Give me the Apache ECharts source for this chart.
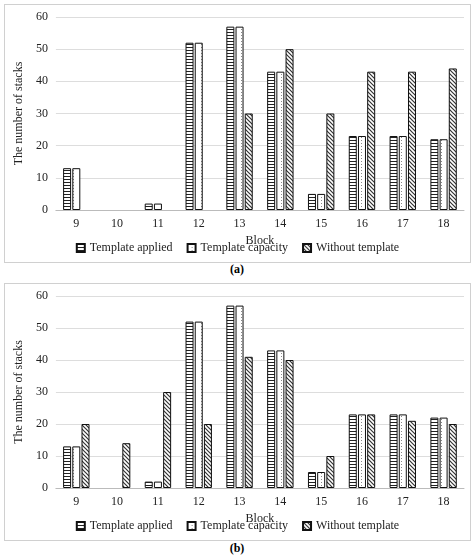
<!DOCTYPE html>
<html>
<head>
<meta charset="utf-8">
<script src="https://cdn.jsdelivr.net/npm/echarts@6/dist/echarts.min.js"></script>
<style>
  body { margin: 0; background: #fff; font-family: "Liberation Serif", serif; }
  .panel { position: absolute; left: 4px; width: 465px; border: 1px solid #d0d0d0; }
  .cap { position: absolute; left: 0; width: 474px; text-align: center; font-size: 12px; font-weight: bold; }
</style>
</head>
<body>
<div class="panel" id="pa" style="top:4px;height:257px"></div>
<div class="cap" style="top:262px">(a)</div>
<div class="panel" id="pb" style="top:283px;height:256px"></div>
<div class="cap" style="top:541px">(b)</div>
<script>
var blocks = ['9', '10', '11', '12', '13', '14', '15', '16', '17', '18'];
var templateApplied = [13, 0, 2, 52, 57, 43, 5, 23, 23, 22];
var templateCapacity = [13, 0, 2, 52, 57, 43, 5, 23, 23, 22];
var withoutTemplateA = [0, 0, 0, 0, 30, 50, 30, 43, 43, 44];
var withoutTemplateB = [20, 14, 30, 20, 41, 40, 10, 23, 21, 20];

function pattern(w, h, draw) {
    var c = document.createElement('canvas');
    c.width = w; c.height = h;
    var ctx = c.getContext('2d');
    ctx.fillStyle = '#fff';
    ctx.fillRect(0, 0, w, h);
    draw(ctx);
    return { image: c, repeat: 'repeat' };
}
var stripes = pattern(2, 3, function (ctx) {
    ctx.fillStyle = '#222'; ctx.fillRect(0, 0, 2, 1);
});
var dots = pattern(8, 3, function (ctx) {
    ctx.fillStyle = '#888'; ctx.fillRect(4, 0, 1, 1);
});
var hatch = pattern(4, 4, function (ctx) {
    ctx.strokeStyle = '#333'; ctx.lineWidth = 1.2;
    ctx.beginPath(); ctx.moveTo(0, 0); ctx.lineTo(4, 4);
    ctx.moveTo(-1, 3); ctx.lineTo(1, 5); ctx.moveTo(3, -1); ctx.lineTo(5, 1);
    ctx.stroke();
});

function bar(name, data, fill) {
    return {
        name: name, type: 'bar', barWidth: 8, barGap: '15%',
        // empty blocks have no bar at all in the figure
        data: data.map(function (v) { return v === 0 ? '-' : v; }),
        itemStyle: { color: fill, borderColor: '#111', borderWidth: 1 }
    };
}

function makeChart(id, withoutData) {
    var chart = echarts.init(document.getElementById(id));
    var txt = { fontFamily: 'Liberation Serif', color: '#222', fontSize: 12 };
    chart.setOption({
        animation: false,
        grid: { left: 42, right: 6, top: 12, bottom: 52 },
        legend: {
            bottom: 3, itemWidth: 8, itemHeight: 8, itemGap: 14, icon: 'rect',
            textStyle: txt,
            data: ['Template applied', 'Template capacity', 'Without template']
        },
        xAxis: {
            type: 'category', data: blocks,
            name: 'Block', nameLocation: 'middle', nameGap: 21, nameTextStyle: txt,
            axisLine: { lineStyle: { color: '#bbb' } },
            axisTick: { show: false },
            axisLabel: txt
        },
        yAxis: {
            type: 'value', min: 0, max: 60, interval: 10,
            name: 'The number of stacks', nameLocation: 'middle', nameGap: 26, nameTextStyle: txt,
            axisLabel: txt,
            splitLine: { lineStyle: { color: '#ddd' } }
        },
        series: [
            bar('Template applied', templateApplied, stripes),
            bar('Template capacity', templateCapacity, dots),
            bar('Without template', withoutData, hatch)
        ]
    });
}
makeChart('pa', withoutTemplateA);
makeChart('pb', withoutTemplateB);
</script>
</body>
</html>
